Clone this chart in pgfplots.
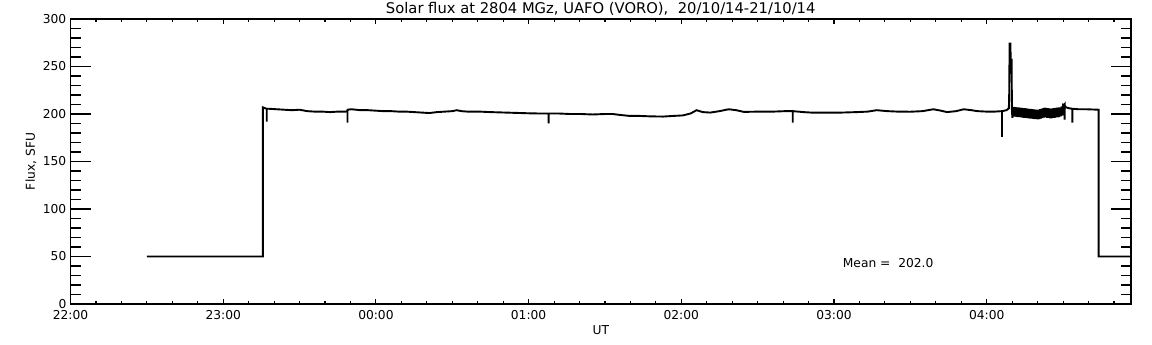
\documentclass[border=0pt]{standalone}
\usepackage{fontspec}
\setmainfont{DejaVu Sans}
\usepackage{pgfplots}
\pgfplotsset{compat=1.18}
\begin{document}
\begin{tikzpicture}
\useasboundingbox (0,0) rectangle (1152bp,345bp);
\pgfplotsset{
  common/.style={
    at={(70.5bp,41bp)}, anchor=south west,
    scale only axis, width=1060.5bp, height=285bp,
    xmin=0, xmax=6.945, ymin=0, ymax=300,
    axis line style={line width=1.2bp},
    tick style={line width=1.1bp, black},
    tick align=inside,
    /pgf/number format/assume math mode=true,
    ticklabel style={font=\fontsize{12.3}{13}\selectfont, inner sep=0pt},
  }
}
\begin{axis}[common,
  xtick=\empty,
  ytick={0,50,...,300},
  minor y tick num=4,
  major tick length=20bp, minor tick length=10bp,
  yticklabel style={anchor=east, xshift=-4bp},
  every axis y label/.style={at={(axis description cs:-0.0372,0.5)}, rotate=90, anchor=center, inner sep=0pt, font=\fontsize{12.3}{13}\selectfont},
  ylabel={Flux, SFU},
  every axis title/.style={at={(axis description cs:0.5,1)}, anchor=base, yshift=5.7bp, inner sep=0pt, font=\fontsize{14.8}{15}\selectfont},
  title={Solar flux at 2804 MGz, UAFO (VORO),\ \ 20/10/14-21/10/14},
]
\addplot[black, line width=1.9bp] coordinates {
(0.50,50) (1.26,50) (1.26,207) (1.275,206) (1.285,205.5) (1.285,192) (1.285,205.5)
(1.30,205.5) (1.35,205) (1.40,204.5) (1.45,204) (1.50,204.5) (1.55,203) (1.60,202.5)
(1.65,202.5) (1.70,202) (1.75,202.5) (1.80,202.5) (1.814,203) (1.814,191) (1.814,204.5)
(1.84,205) (1.90,204) (1.95,204) (2.00,203.5) (2.05,203) (2.10,203) (2.15,202.5)
(2.20,202.5) (2.25,202) (2.30,201.5) (2.35,201) (2.40,202) (2.45,202.5) (2.50,203)
(2.53,204) (2.56,203) (2.60,202.5) (2.68,202.5) (2.75,202) (2.85,201.5) (2.95,201)
(3.01,200.7) (3.08,200.5) (3.131,200.5) (3.131,190) (3.131,200.5) (3.20,200.5)
(3.27,200) (3.34,200) (3.42,199.5) (3.50,200) (3.55,200) (3.60,199) (3.66,198)
(3.72,198) (3.80,197.5) (3.88,197.3) (3.95,198) (4.01,198.5) (4.06,200.5) (4.10,204)
(4.14,202) (4.19,201.5) (4.25,203) (4.31,205) (4.36,204) (4.41,202.2) (4.50,202.5)
(4.60,202.5) (4.68,203) (4.73,203) (4.73,191) (4.73,203) (4.80,202) (4.85,201.5)
(4.95,201.5) (5.05,201.5) (5.15,202) (5.22,202.5) (5.28,204) (5.35,203) (5.42,202.5)
(5.50,202.4) (5.58,203) (5.65,205) (5.70,203.5) (5.74,202) (5.80,203) (5.85,205)
(5.90,204) (5.94,203) (6.00,202.5) (6.05,202.5) (6.10,203) (6.10,176) (6.10,203)
(6.13,204) (6.145,206) (6.147,217) (6.150,274) (6.155,274) (6.157,257) (6.163,257)
(6.165,205) (6.168,196)
(6.170,207.5) (6.175,197.4) (6.180,207.3) (6.185,197.2) (6.190,207.1) (6.195,197)
(6.200,207) (6.205,196.9) (6.210,206.8) (6.215,196.7) (6.220,206.6) (6.225,196.5)
(6.230,206.4) (6.235,196.3) (6.240,206.2) (6.245,196.1) (6.250,206) (6.255,195.9)
(6.260,205.8) (6.265,195.7) (6.270,205.6) (6.275,195.5) (6.280,205.4) (6.285,195.3)
(6.290,205.2) (6.295,195.1) (6.300,205) (6.305,194.9) (6.310,204.8) (6.315,194.7)
(6.320,204.6) (6.325,194.6) (6.330,204.5) (6.335,194.5) (6.340,204.5) (6.345,194.8)
(6.350,205) (6.355,195.3) (6.360,205.5) (6.365,195.8) (6.370,206) (6.375,196.3)
(6.380,206.5) (6.385,196.4) (6.390,206.3) (6.395,196.1) (6.400,206) (6.405,195.9)
(6.410,205.8) (6.415,195.6) (6.420,205.5) (6.425,195.6) (6.430,205.8) (6.435,195.9)
(6.440,206) (6.445,196.1) (6.450,206.3) (6.455,196.4) (6.460,206.5) (6.465,196.6)
(6.470,206.8) (6.475,196.9) (6.480,207) (6.485,197.5) (6.490,208) (6.495,198.5)
(6.500,209)
(6.505,208) (6.51,209.5) (6.51,194) (6.51,209) (6.52,207) (6.54,206) (6.561,205.5)
(6.561,191) (6.561,205.5) (6.60,205) (6.65,205) (6.70,204.7) (6.733,204.5)
(6.733,50) (6.945,50)
};
\node[anchor=base west, font=\fontsize{12.3}{13}\selectfont, inner sep=0pt] at (axis cs:5.057,38.9) {Mean =\ \ 202.0};
\end{axis}
\begin{axis}[common,
  ytick=\empty,
  xtick={0,1,2,3,4,5,6},
  xticklabels={22:00,23:00,00:00,01:00,02:00,03:00,04:00},
  minor xtick={0.1667,0.3333,0.5,0.6667,0.8333,1.1667,1.3333,1.5,1.6667,1.8333,2.1667,2.3333,2.5,2.6667,2.8333,3.1667,3.3333,3.5,3.6667,3.8333,4.1667,4.3333,4.5,4.6667,4.8333,5.1667,5.3333,5.5,5.6667,5.8333,6.1667,6.3333,6.5,6.6667,6.8333},
  major tick length=5bp, minor tick length=3bp,
  xticklabel style={anchor=north, yshift=-6bp},
  every axis x label/.style={at={(axis description cs:0.5,0)}, anchor=north, yshift=-21bp, inner sep=0pt, font=\fontsize{12.3}{13}\selectfont},
  xlabel={UT},
]
\end{axis}
\end{tikzpicture}
\end{document}
